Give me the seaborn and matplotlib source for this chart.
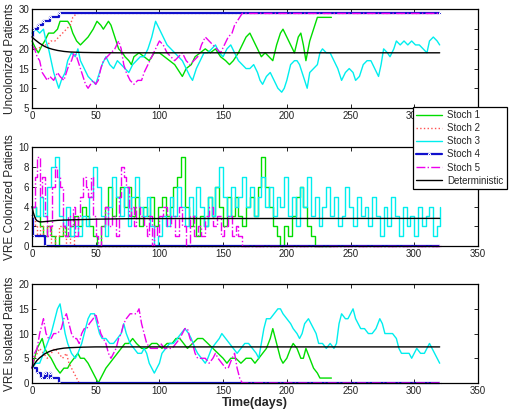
import numpy as np
import matplotlib
matplotlib.use("Agg")
import matplotlib.pyplot as plt
import seaborn as sns

# ---- Uncolonized patients (top panel) ----
u1_t = [0, 3, 5, 8, 10, 13, 17, 20, 22, 28, 30, 32, 35, 38, 41, 44, 48, 51, 54, 56, 60, 62, 64, 66, 68,
        71, 73, 76, 78, 80, 84, 88, 92, 96, 100, 104, 108, 112, 116, 118, 121, 125, 128, 132, 136, 140,
        144, 148, 152, 155, 158, 162, 165, 168, 171, 174, 177, 180, 183, 186, 189, 192, 195, 197, 200,
        203, 206, 209, 211, 213, 215, 218, 221, 224, 235]
u1_v = [22, 20, 19, 21, 22, 24, 24, 25, 27, 27, 26, 24, 22, 21, 22, 23, 25, 27, 26, 25, 27, 26, 24, 22, 20,
        19, 18, 17, 16, 18, 19, 18, 17, 19, 19, 18, 17, 16, 14, 13, 15, 16, 18, 19, 20, 19, 20, 18, 17, 16,
        17, 19, 21, 23, 24, 22, 20, 18, 19, 18, 17, 21, 24, 25, 23, 21, 19, 23, 24, 21, 17, 22, 25, 28, 28]
u2_t = [0, 5, 8, 12, 15, 18, 21, 24, 27, 30, 32, 35, 320]
u2_v = [20, 20, 21, 21, 22, 22, 23, 24, 25, 26, 28, 29, 29]
u3_t = [0, 3, 6, 9, 11, 13, 15, 17, 19, 21, 23, 26, 28, 31, 34, 36, 38, 41, 44, 47, 50, 52, 55, 58, 61,
        64, 67, 70, 73, 76, 79, 82, 85, 88, 91, 94, 97, 100, 103, 106, 109, 112, 115, 118, 121, 124, 126,
        129, 132, 135, 138, 141, 144, 147, 150, 153, 156, 159, 162, 165, 168, 171, 174, 177, 179, 181,
        184, 187, 190, 193, 196, 198, 200, 203, 206, 208, 210, 212, 214, 216, 218, 221, 224, 226, 228,
        231, 234, 237, 240, 243, 246, 249, 252, 254, 257, 260, 263, 266, 269, 272, 274, 276, 279, 281,
        284, 286, 289, 292, 295, 298, 301, 304, 307, 310, 312, 315, 318, 320]
u3_v = [24, 25, 24, 25, 22, 20, 17, 14, 12, 10, 12, 14, 17, 19, 18, 20, 17, 15, 13, 12, 11, 13, 16, 18, 16,
        15, 17, 16, 15, 14, 16, 17, 18, 18, 20, 23, 27, 25, 23, 21, 20, 19, 18, 17, 15, 13, 12, 15, 17, 19,
        19, 20, 21, 19, 18, 20, 21, 19, 17, 16, 15, 15, 16, 14, 12, 11, 13, 14, 12, 10, 9, 10, 12, 16, 17,
        17, 16, 14, 12, 10, 14, 15, 16, 19, 20, 19, 19, 17, 15, 12, 14, 15, 14, 12, 13, 16, 17, 17, 15, 13,
        16, 20, 19, 18, 20, 22, 21, 22, 21, 22, 21, 21, 20, 19, 22, 23, 22, 21]
u4_t = [0, 1, 5, 9, 14, 21, 320]
u4_v = [23, 25, 26, 27, 28, 29, 29]
u5_t = [0, 2, 4, 6, 8, 10, 12, 14, 17, 20, 22, 25, 27, 29, 31, 33, 35, 37, 40, 42, 44, 46, 48, 50, 52,
        54, 56, 59, 62, 65, 68, 70, 72, 74, 77, 80, 83, 86, 88, 91, 94, 97, 100, 103, 106, 109, 112, 115,
        118, 121, 124, 127, 130, 133, 136, 139, 142, 145, 148, 151, 154, 157, 159, 161, 163, 165, 320]
u5_v = [21, 20, 18, 17, 14, 13, 12, 13, 12, 14, 13, 12, 14, 16, 17, 19, 18, 16, 13, 11, 10, 11, 12, 11, 12,
        15, 17, 18, 19, 20, 22, 20, 16, 14, 12, 11, 12, 12, 14, 16, 18, 20, 22, 21, 19, 18, 17, 18, 19, 17,
        16, 17, 18, 21, 23, 22, 21, 20, 19, 21, 23, 24, 26, 27, 28, 29, 29]
ud_t = [0, 2, 4, 6, 8, 10, 13, 16, 20, 25, 30, 40, 50, 70, 100, 320]
ud_v = [23.0, 22.4, 21.9, 21.4, 21.0, 20.6, 20.2, 19.9, 19.6, 19.35, 19.2, 19.08, 19.03, 19.0, 19.0, 19.0]

# ---- VRE colonized patients (middle panel) ----
c1_t = list(range(0, 223, 3)) + [235]
c1_v = [4, 3, 2, 1, 2, 1, 0, 1, 2, 1, 2, 3, 2, 4, 3, 2, 1, 0, 2, 4, 6, 3, 5, 6, 4, 6, 3, 5, 2, 4, 3, 5, 2,
        4, 5, 3, 4, 6, 7, 9, 4, 2, 3, 1, 3, 2, 5, 3, 6, 4, 2, 5, 3, 5, 3, 2, 4, 5, 3, 6, 9, 6, 4, 2, 1, 0,
        2, 1, 3, 5, 6, 4, 2, 1, 0, 0]
c2_t = [0, 2, 4, 6, 9, 12, 15, 18, 21, 24, 27, 30, 33, 320]
c2_v = [3, 2, 1, 2, 1, 2, 0, 1, 2, 1, 0, 1, 0, 0]
c3_t = list(range(0, 319, 3)) + [320]
c3_v = [4, 3, 5, 3, 6, 8, 9, 3, 2, 4, 1, 2, 1, 3, 2, 5, 8, 6, 3, 1, 4, 7, 5, 3, 6, 2, 5, 7, 4, 3,
        5, 2, 0, 1, 3, 2, 5, 3, 6, 4, 2, 5, 3, 6, 4, 2, 5, 3, 6, 8, 5, 3, 6, 4, 5, 7, 4, 6, 3, 5,
        7, 4, 6, 3, 5, 4, 7, 3, 5, 2, 6, 4, 7, 3, 5, 2, 4, 6, 3, 5, 2, 3, 6, 4, 2, 5, 3, 4, 2, 5,
        3, 1, 4, 2, 5, 3, 1, 4, 2, 3, 1, 4, 2, 3, 4, 1, 2, 4]
c4_t = [0, 1, 10, 320]
c4_v = [3, 1, 0, 0]
c5_t = [0, 2, 4, 6, 8, 10, 12, 14, 16, 18, 20, 22, 24, 26, 28, 30, 32, 34, 36, 38, 40, 42, 44, 46, 48,
        50, 52, 54, 57, 60, 63, 66, 68, 70, 72, 74, 76, 78, 80, 82, 85, 88, 90, 92, 94, 96, 98, 100, 103,
        106, 109, 112, 115, 118, 121, 124, 127, 130, 133, 136, 139, 142, 145, 148, 151, 154, 157, 160,
        162, 165, 320]
c5_v = [4, 7, 9, 5, 7, 3, 1, 2, 6, 8, 7, 6, 2, 1, 3, 2, 4, 1, 3, 5, 7, 6, 5, 7, 3, 1, 0, 2, 4, 2, 3, 1,
        5, 8, 7, 6, 3, 4, 2, 4, 3, 2, 1, 3, 0, 2, 1, 3, 4, 2, 3, 1, 4, 2, 0, 3, 1, 2, 1, 3, 4, 2, 3, 1, 2,
        3, 1, 2, 1, 0, 0]
cd_t = [0, 1, 2, 3, 4, 6, 8, 12, 20, 30, 50, 80, 320]
cd_v = [4.0, 3.4, 3.0, 2.7, 2.55, 2.45, 2.45, 2.5, 2.6, 2.65, 2.72, 2.78, 2.8]

# ---- VRE isolated patients (bottom panel) ----
i1_t = [0, 2, 4, 6, 8, 10, 12, 15, 17, 19, 22, 25, 28, 30, 33, 36, 38, 41, 44, 46, 48, 50, 52, 54, 56,
        58, 61, 64, 67, 70, 73, 76, 79, 82, 86, 90, 94, 98, 102, 106, 110, 113, 116, 119, 122, 126, 130,
        134, 138, 142, 146, 150, 153, 156, 160, 164, 168, 172, 175, 178, 181, 184, 187, 189, 191, 193,
        195, 197, 200, 203, 205, 208, 211, 213, 215, 218, 221, 224, 226, 235]
i1_v = [3, 5, 7, 8, 9, 7, 6, 5, 4, 3, 2, 3, 3, 4, 5, 6, 5, 5, 4, 3, 2, 1, 0, 1, 2, 3, 4, 5, 6, 7, 8, 8, 9,
        8, 7, 7, 8, 8, 7, 8, 8, 9, 9, 8, 7, 8, 9, 9, 8, 7, 6, 5, 4, 5, 5, 4, 5, 5, 4, 5, 6, 7, 9, 11, 9, 7,
        5, 4, 5, 7, 8, 7, 5, 5, 7, 5, 3, 2, 1, 1]
i2_t = [0, 2, 4, 6, 9, 12, 15, 18, 21, 24, 27, 29, 31, 33, 35, 37, 320]
i2_v = [3, 5, 6, 7, 6, 5, 6, 7, 6, 5, 6, 4, 3, 2, 1, 0, 0]
i3_t = [0, 3, 6, 9, 12, 15, 18, 20, 22, 24, 26, 28, 31, 34, 36, 39, 42, 44, 46, 49, 51, 53, 55, 58, 61,
        64, 67, 70, 72, 74, 77, 80, 83, 86, 88, 90, 92, 94, 96, 98, 100, 102, 105, 108, 111, 114, 117, 120,
        123, 125, 128, 130, 133, 136, 138, 141, 144, 147, 149, 152, 155, 158, 161, 164, 167, 170, 173,
        176, 178, 180, 182, 184, 187, 190, 193, 195, 197, 200, 203, 205, 208, 210, 212, 214, 217, 219,
        221, 223, 225, 228, 231, 234, 237, 239, 241, 243, 246, 248, 250, 252, 254, 256, 258, 261, 264,
        267, 270, 273, 275, 277, 280, 283, 286, 288, 290, 293, 296, 298, 300, 302, 305, 308, 310, 312,
        314, 316, 318, 320]
i3_v = [3, 4, 4, 6, 8, 10, 13, 15, 16, 13, 10, 8, 6, 5, 6, 8, 11, 13, 14, 14, 12, 10, 9, 9, 8, 8, 9, 10,
        12, 10, 8, 7, 6, 6, 7, 6, 4, 3, 2, 3, 4, 6, 7, 8, 8, 9, 10, 11, 10, 9, 7, 6, 5, 4, 5, 7, 8, 9, 10,
        9, 8, 7, 6, 7, 8, 8, 7, 6, 5, 8, 11, 13, 13, 14, 15, 15, 14, 13, 12, 11, 10, 9, 10, 12, 13, 12, 11,
        10, 8, 8, 7, 8, 7, 8, 12, 14, 13, 13, 14, 15, 13, 12, 11, 11, 10, 10, 11, 13, 12, 10, 10, 10, 9, 7,
        6, 6, 6, 5, 6, 7, 6, 6, 7, 8, 7, 6, 5, 4]
i4_t = [0, 4, 7, 10, 12, 14, 15, 21, 320]
i4_v = [3, 2, 1, 2, 1, 2, 1, 0, 0]
i5_t = [0, 2, 4, 6, 8, 9, 11, 13, 15, 17, 20, 23, 25, 27, 29, 31, 33, 35, 37, 39, 41, 43, 45, 48, 50,
        52, 54, 56, 58, 60, 62, 64, 66, 68, 70, 72, 74, 77, 80, 82, 84, 86, 88, 90, 93, 96, 99, 101, 104,
        107, 110, 113, 116, 118, 120, 122, 124, 126, 128, 130, 133, 136, 139, 142, 144, 146, 149, 152,
        154, 157, 159, 161, 163, 165, 320]
i5_v = [3, 6, 7, 10, 12, 13, 10, 9, 9, 10, 10, 11, 13, 14, 12, 10, 9, 9, 8, 10, 11, 11, 12, 13, 14, 12, 10,
        9, 8, 6, 5, 6, 7, 9, 10, 12, 13, 14, 14, 14, 15, 12, 10, 8, 7, 7, 7, 8, 7, 7, 7, 8, 9, 10, 11, 11,
        9, 8, 6, 5, 5, 5, 4, 5, 6, 5, 4, 3, 3, 5, 6, 3, 1, 0, 0]
id_t = [0, 2, 4, 6, 8, 10, 13, 16, 20, 25, 30, 40, 50, 70, 320]
id_v = [3.0, 3.9, 4.6, 5.1, 5.5, 5.9, 6.3, 6.6, 6.85, 7.05, 7.15, 7.25, 7.3, 7.3, 7.3]

labels = ["Stoch 1", "Stoch 2", "Stoch 3", "Stoch 4", "Stoch 5", "Deterministic"]

sns.set_theme(style="white")
plt.rcParams["font.family"] = ["Liberation Sans", "DejaVu Sans"]
plt.rcParams.update({
    "xtick.direction": "in", "ytick.direction": "in",
    "xtick.top": True, "xtick.bottom": True, "ytick.left": True, "ytick.right": True,
    "xtick.major.size": 3, "ytick.major.size": 3,
    "xtick.major.width": 0.6, "ytick.major.width": 0.6,
    "xtick.color": "black", "ytick.color": "black",
    "xtick.labelcolor": "#222222", "ytick.labelcolor": "#222222",
    "xtick.labelsize": 7, "ytick.labelsize": 7,
    "axes.edgecolor": "black", "axes.linewidth": 0.9,
})


def draw(ax, t, v, **kw):
    sns.lineplot(x=np.asarray(t, float), y=np.asarray(v, float), ax=ax,
                 estimator=None, sort=False, legend=False, clip_on=False, **kw)


def panel(ax, series, det, step_all=False):
    (s1, s2, s3, s4, s5) = series
    ds = "steps-post" if step_all else "default"
    draw(ax, *s1, color="#00dd00", lw=1.0, drawstyle=ds, label=labels[0])
    draw(ax, *s2, color="#ff5050", lw=1.0, ls=":", drawstyle=ds, label=labels[1])
    draw(ax, *s3, color="#00eeee", lw=1.0, drawstyle=ds, label=labels[2])
    draw(ax, *s4, color="#1010cc", lw=1.6, drawstyle="steps-post",
         marker=".", ms=3, label=labels[3])
    draw(ax, *s5, color="#ee00ee", lw=1.0, ls="-.", drawstyle=ds, label=labels[4])
    draw(ax, *det, color="black", lw=1.0, label=labels[5])
    ax.set_xlim(0, 350)
    ax.set_xticks(range(0, 351, 50))


fig = plt.figure(figsize=(5.09, 4.12), dpi=100)
ax_u = fig.add_axes([0.0629, 0.738, 0.876, 0.239])
ax_c = fig.add_axes([0.0629, 0.403, 0.876, 0.239])
ax_i = fig.add_axes([0.0629, 0.0704, 0.876, 0.240])

panel(ax_u, [(u1_t, u1_v), (u2_t, u2_v), (u3_t, u3_v), (u4_t, u4_v), (u5_t, u5_v)], (ud_t, ud_v))
ax_u.set_ylim(5, 30)
ax_u.set_yticks(range(5, 31, 5))
ax_u.set_ylabel("Uncolonized Patients", fontsize=8.5)

panel(ax_c, [(c1_t, c1_v), (c2_t, c2_v), (c3_t, c3_v), (c4_t, c4_v), (c5_t, c5_v)], (cd_t, cd_v),
      step_all=True)
ax_c.set_ylim(0, 10)
ax_c.set_yticks(range(0, 11, 2))
ax_c.set_ylabel("VRE Colonized Patients", fontsize=8.5)

panel(ax_i, [(i1_t, i1_v), (i2_t, i2_v), (i3_t, i3_v), (i4_t, i4_v), (i5_t, i5_v)], (id_t, id_v))
ax_i.set_ylim(0, 20)
ax_i.set_yticks(range(0, 21, 5))
ax_i.set_ylabel("VRE Isolated Patients", fontsize=8.5)
ax_i.set_xlabel("Time(days)", fontsize=9, fontweight="bold", labelpad=1)

for ax in (ax_u, ax_c):
    ax.set_xlabel("")
for ax in (ax_u, ax_c, ax_i):
    # label anchor is the right edge of the rotated text
    ax.yaxis.set_label_coords(-0.036, 0.5)
    ax.tick_params(pad=2)

leg = fig.legend(ax_u.get_lines()[:6], labels, loc="upper right",
                 bbox_to_anchor=(0.9955, 0.741), frameon=True, fancybox=False,
                 edgecolor="black", framealpha=1, fontsize=7, borderaxespad=0,
                 handlelength=2.7, labelspacing=0.32, borderpad=0.35, handletextpad=0.5)
leg.get_frame().set_linewidth(0.9)

fig.savefig("out.png", dpi=100)
